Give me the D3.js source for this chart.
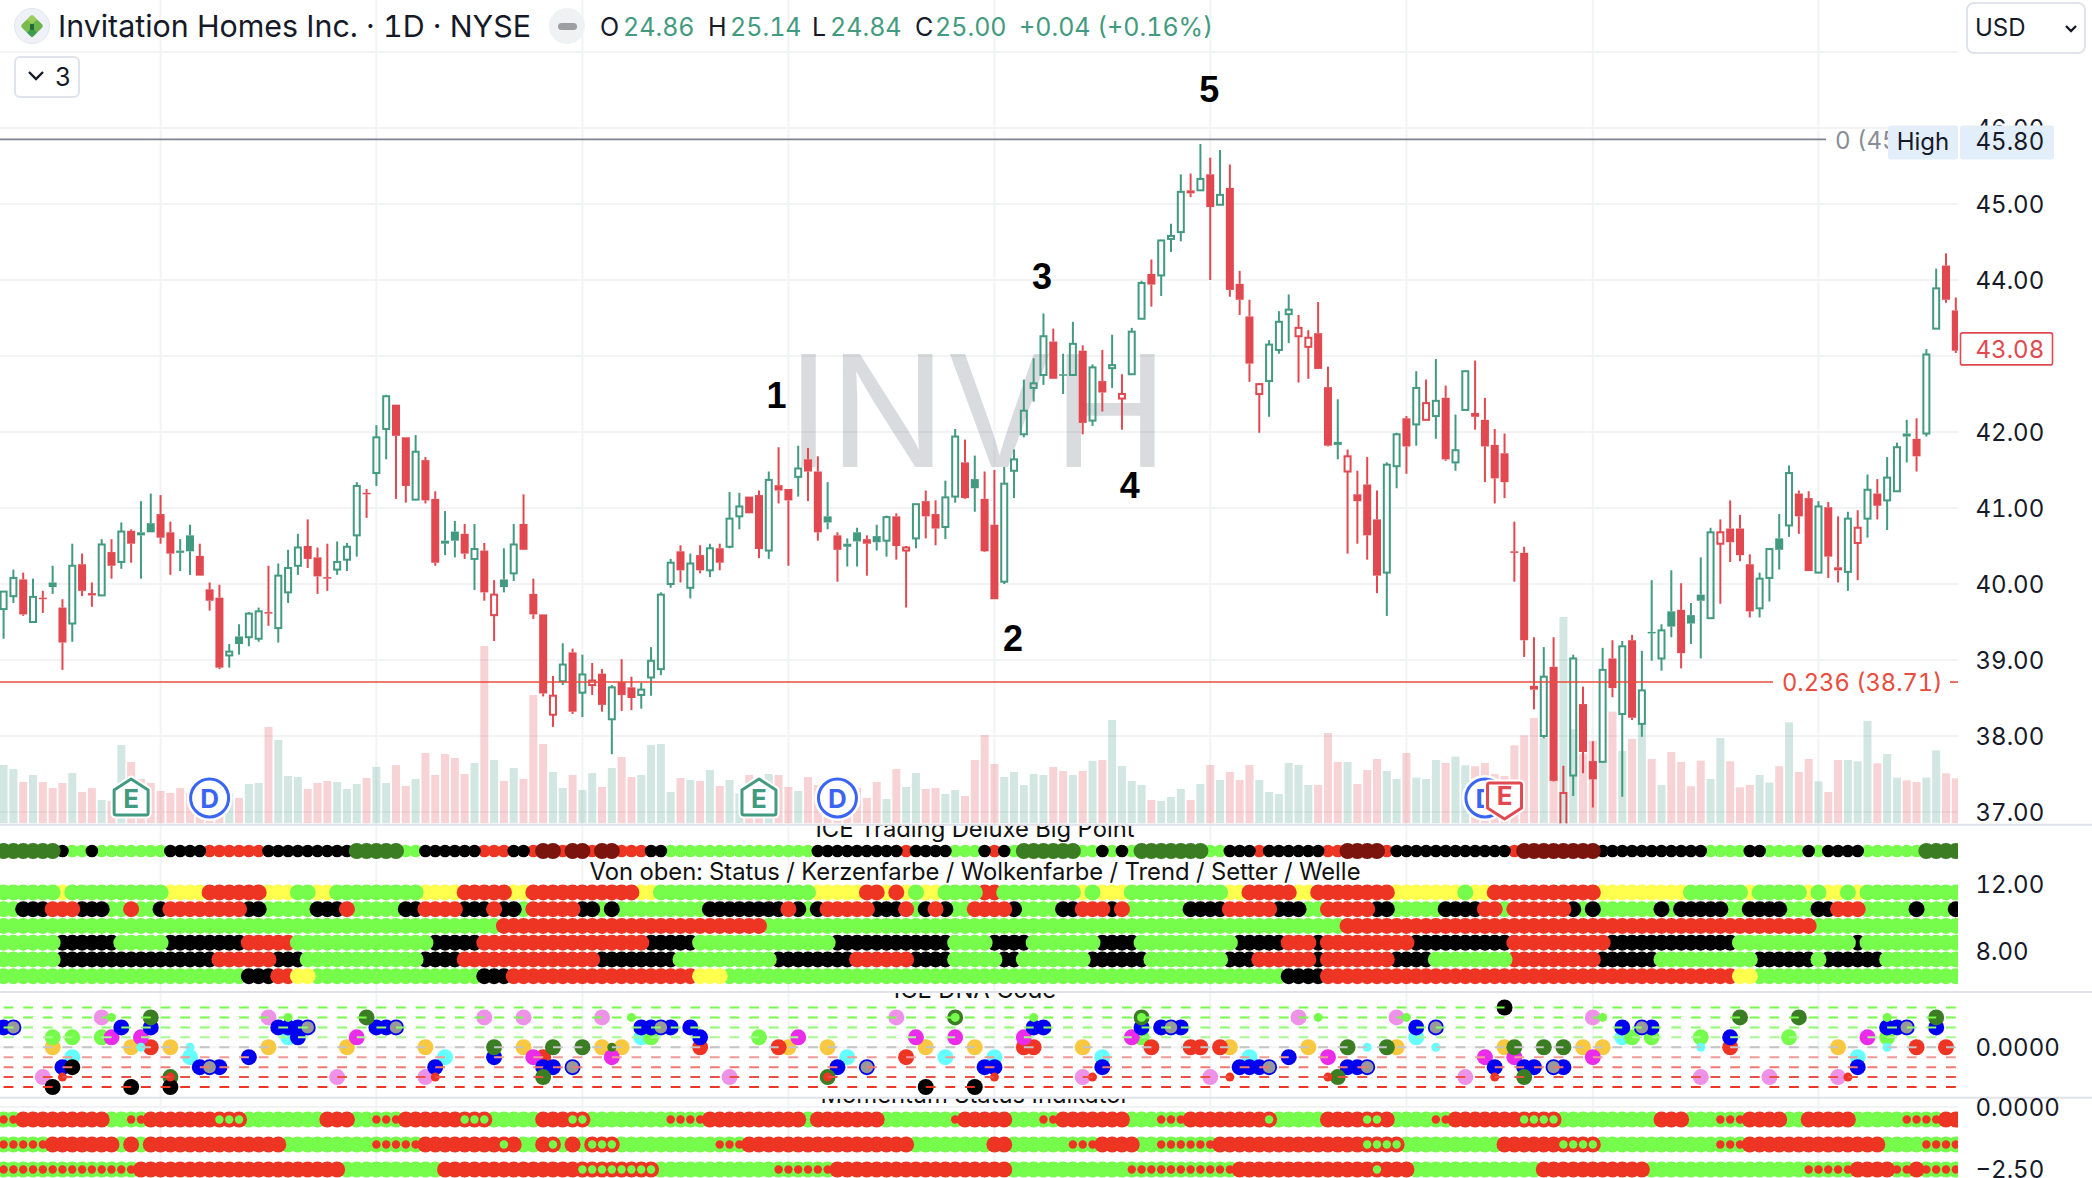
<!DOCTYPE html>
<html><head><meta charset="utf-8">
<style>html,body{margin:0;padding:0;background:#fff;overflow:hidden}svg{display:block}text{font-family:Inter,"Noto Sans",sans-serif;font-variant-numeric:tabular-nums}</style>
<script src="https://cdn.jsdelivr.net/npm/d3@7/dist/d3.min.js"></script>
</head><body><svg id="c" width="2092" height="1178"></svg>
<script>
// ---------- candle data (one entry per trading day) ----------
// G hollow green, g solid green, R solid red, r hollow red
const candleKinds = ("GGRGRgRGRR"+"GRGRggRRgg"+"RRRGgGGRGG"+"GRRRGGGRGG"+"RRGRRggRGR"+"rgGRRRrGRG"+"rRGRRGGGGR"+"GRGRGGRRGR"+"RGRRgRggRg"+"GRrGRRGGRg"+
 "RRGGGGGRgG"+"RGRGrGGRGG"+"GRGRGRRRrG"+"GGrrRRgrRR"+"RGGRGrGRGG"+"RRRRRRRGRr"+"GRRGRGRGgG"+"gRggGrRRRG"+"GgGRRGRRGr"+"GRGGgRGGRR").split("");
const bodyTops = [
39.90,40.08,40.06,39.83,39.82,40.02,39.69,40.24,40.26,39.88,
40.52,40.42,40.69,40.70,40.68,40.80,40.92,40.68,40.44,40.64,
40.37,39.93,39.82,39.11,39.31,39.61,39.64,39.63,40.11,40.21,
40.48,40.50,40.35,40.09,40.29,40.49,41.29,41.20,41.93,42.47,
42.36,41.93,41.74,41.63,41.12,40.57,40.69,40.66,40.46,40.44,
39.86,40.06,40.52,40.79,39.87,39.60,38.53,38.94,39.10,38.81,
38.73,38.82,38.64,38.71,38.64,38.61,38.99,39.86,40.28,40.43,
40.27,40.38,40.47,40.47,40.86,41.02,41.15,41.17,41.37,41.30,
41.25,41.52,41.64,41.48,40.89,40.64,40.53,40.68,40.59,40.63,
40.88,40.89,40.48,41.05,41.09,40.92,41.14,41.94,41.60,41.38,
41.12,40.78,41.32,41.64,42.28,42.64,43.26,43.19,42.76,43.16,
43.07,42.85,42.67,42.88,42.50,43.32,43.96,44.08,44.52,44.58,
45.16,45.18,45.33,45.39,45.12,45.21,43.95,43.52,42.63,43.15,
43.45,43.61,43.37,43.24,43.30,42.59,41.87,41.68,41.18,41.31,
40.85,41.57,41.97,42.18,42.58,42.38,42.41,42.45,41.76,42.80,
42.25,42.16,41.83,41.72,40.43,40.41,38.66,38.78,38.91,37.25,
39.02,38.42,37.67,38.87,39.02,39.18,39.26,38.60,39.37,39.39,
39.64,39.66,39.59,39.86,40.68,40.68,40.73,40.73,40.26,40.07,
40.46,40.60,41.46,41.19,41.13,41.02,41.01,40.22,40.86,40.74,
41.24,41.19,41.40,41.80,41.98,41.91,43.02,43.89,44.19,43.60];
const bodyBottoms = [
39.67,39.84,39.60,39.50,39.80,39.96,39.23,39.48,39.91,39.85,
39.85,40.24,40.29,40.53,40.64,40.68,40.61,40.40,40.41,40.43,
40.11,39.78,38.90,39.06,39.21,39.30,39.28,39.61,39.42,39.89,
40.24,40.33,40.10,40.07,40.19,40.32,40.64,41.18,41.46,42.04,
41.95,41.29,41.11,41.10,40.28,40.53,40.57,40.40,40.33,39.89,
39.59,39.96,40.14,40.45,39.60,38.56,38.28,38.72,38.32,38.57,
38.67,38.41,38.22,38.54,38.50,38.54,38.77,38.88,40.00,40.18,
39.95,40.18,40.18,40.28,40.49,40.89,40.93,40.46,40.44,41.23,
41.10,41.41,41.48,40.68,40.81,40.45,40.49,40.56,40.53,40.55,
40.57,40.50,40.44,40.60,40.89,40.73,40.75,41.15,41.13,41.26,
40.43,39.80,40.03,41.49,41.97,42.58,42.75,42.70,42.75,42.75,
42.12,42.15,42.52,42.84,42.44,42.76,43.49,43.94,44.06,44.54,
44.63,45.14,45.18,44.96,44.99,43.87,43.74,42.90,42.50,42.67,
43.08,43.55,43.26,43.12,42.83,41.82,41.83,41.48,41.09,40.64,
40.11,40.15,41.55,41.81,42.10,42.16,42.21,41.64,41.60,42.29,
42.20,41.81,41.39,41.34,40.41,39.26,38.61,38.00,37.41,36.82,
37.48,37.79,37.43,37.66,38.63,38.29,38.24,38.16,39.35,39.02,
39.44,39.09,39.48,39.78,39.55,40.53,40.55,40.38,39.64,39.68,
40.08,40.45,40.77,40.89,40.17,40.15,40.36,40.18,40.16,40.54,
40.86,41.03,41.10,41.22,41.94,41.68,41.98,43.36,43.74,43.07];
const highs = [
39.90,40.19,40.15,40.07,39.91,40.24,39.80,40.53,40.40,40.02,
40.59,40.59,40.81,40.72,41.09,41.19,41.17,40.82,40.59,40.78,
40.53,40.02,39.99,39.21,39.47,39.63,39.69,40.24,40.27,40.45,
40.66,40.85,40.48,40.53,40.56,40.54,41.34,41.25,42.09,42.49,
42.36,41.93,41.96,41.67,41.22,40.96,40.83,40.79,40.79,40.54,
40.05,40.47,40.79,41.18,40.07,39.60,38.79,39.22,39.15,39.07,
38.96,38.88,38.67,39.01,38.78,38.70,39.17,39.89,40.33,40.51,
40.40,40.51,40.53,40.53,41.21,41.20,41.15,41.23,41.48,41.80,
41.25,41.82,41.79,41.68,41.34,40.68,40.60,40.74,40.64,40.78,
40.90,40.93,40.50,41.05,41.23,41.10,41.36,42.04,41.90,41.69,
41.48,41.50,41.54,41.77,42.69,42.97,43.56,43.36,43.03,43.45,
43.14,42.89,43.08,43.28,42.76,43.37,43.99,44.27,44.53,44.74,
45.39,45.40,45.79,45.61,45.71,45.52,44.12,43.74,42.64,43.21,
43.59,43.81,43.54,43.34,43.71,42.86,42.43,41.77,41.49,41.67,
41.23,41.60,41.99,42.21,42.80,42.69,42.96,42.61,42.23,42.80,
42.94,42.45,42.04,41.98,40.82,40.49,39.30,39.17,39.30,37.61,
39.07,38.65,37.93,39.16,39.26,39.25,39.33,39.12,40.05,39.47,
40.18,40.01,39.75,40.35,40.74,40.85,41.10,40.91,40.39,40.15,
40.47,40.92,41.56,41.23,41.22,41.09,41.08,40.89,40.95,40.97,
41.44,41.38,41.67,41.86,42.16,42.18,43.09,44.15,44.35,43.77];
const lows = [
39.28,39.75,39.58,39.50,39.62,39.87,38.87,39.24,39.84,39.70,
39.85,40.07,40.20,40.28,40.07,40.68,40.53,40.12,40.17,40.12,
40.11,39.65,38.88,38.90,39.07,39.18,39.24,39.45,39.23,39.75,
40.12,40.21,39.87,39.91,40.12,40.17,40.36,40.87,41.29,41.64,
41.12,41.07,41.11,41.06,40.24,40.38,40.35,40.33,39.92,39.78,
39.25,39.89,40.04,40.45,39.54,38.52,38.12,38.67,38.29,38.25,
38.54,38.32,37.76,38.33,38.34,38.36,38.53,38.80,39.95,40.02,
39.81,40.14,40.09,40.18,40.47,40.72,40.93,40.34,40.33,41.06,
40.24,41.15,41.09,40.57,40.72,40.03,40.23,40.23,40.11,40.44,
40.36,40.32,39.69,40.47,40.60,40.51,40.59,41.07,41.12,40.95,
40.42,39.80,40.00,41.13,41.93,42.40,42.62,42.70,42.50,42.75,
41.97,42.08,42.27,42.58,42.03,42.76,43.49,43.65,43.79,44.37,
44.51,45.09,45.18,44.00,44.99,43.78,43.54,42.66,41.99,42.20,
43.03,43.17,42.65,42.70,42.83,41.81,41.64,40.40,40.53,40.32,
39.88,39.58,41.26,41.45,41.82,42.16,41.91,41.62,41.49,42.29,
42.03,41.34,41.06,41.13,40.03,39.04,38.35,37.97,37.40,36.82,
37.21,37.51,37.06,37.66,38.51,37.20,38.21,37.99,38.99,38.86,
39.30,38.89,39.21,39.02,39.55,39.74,40.29,40.30,39.56,39.56,
39.77,40.19,40.62,40.66,40.17,40.15,40.08,40.02,39.91,40.05,
40.61,40.85,40.71,41.22,41.60,41.48,41.94,43.36,43.70,43.04];
const volumes = [
1.75,1.63,1.24,1.45,1.24,1.06,1.21,1.51,.94,1.06,
.70,.67,2.35,1.84,1.33,1.21,.97,.91,1.06,.91,
.91,.60,.70,.90,.76,1.18,1.21,2.89,2.50,1.42,
1.39,1.03,1.21,1.27,1.24,1.03,1.18,1.36,1.69,1.21,
1.75,1.12,1.33,2.11,1.45,2.08,1.96,1.48,1.81,5.32,
1.90,1.27,1.66,1.33,3.85,2.38,1.54,1.06,1.45,1.00,
1.51,1.09,1.66,1.99,1.39,1.45,2.35,2.38,.94,1.36,
1.30,1.27,1.60,1.12,1.30,.90,1.45,1.25,1.48,1.45,
1.09,.97,1.39,1.15,1.10,1.10,.90,1.06,.76,1.24,
.73,1.63,1.09,1.51,1.03,1.06,.88,1.00,.82,1.90,
2.65,1.78,1.39,1.54,1.15,1.48,1.45,1.69,1.57,1.45,
1.57,1.87,1.90,3.10,1.72,1.27,1.15,.70,.67,.79,
1.03,.70,1.18,1.75,1.30,1.54,1.30,1.75,1.30,.94,
.88,1.81,1.75,1.15,1.15,2.71,1.84,1.84,1.18,1.60,
1.93,1.57,1.33,2.11,1.37,1.33,1.90,1.81,2.00,1.74,
1.71,1.81,1.48,1.42,2.34,2.64,3.16,2.57,1.42,6.19,
2.82,2.09,2.48,1.82,3.35,2.17,2.53,2.98,1.93,1.15,
2.14,1.84,1.11,1.88,1.33,2.56,1.86,1.08,1.15,1.45,
1.22,1.71,3.03,1.54,1.93,1.26,.94,1.90,1.90,1.86,
3.07,1.80,2.08,1.37,1.29,1.24,1.37,2.19,1.50,1.35];

// ---------- axes, levels, labels ----------
const priceTicks = [37,38,39,40,41,42,43,44,45,46];
const priceGrid = [37,38,39,40,41,42,43,44,45,46,47];
const monthStartBars = [16,38,59,80,101,123,143,162,185];
const statusTicks = [12,8];
const dnaTicks = [0];
const momentumTicks = [0,-2.5];
const lastPrice = 43.08;
const highLevel = 45.85, highLabel = "45.80";
const fibLevel = 38.71, fibRatio = "0.236";
const waveLabels = ["1","2","3","4","5"];
const waveBars = [78.8,102.9,105.85,114.8,122.9];
const wavePrices = [42.49,39.29,44.05,41.30,46.51];
const earningsBars = [13,77];
const dividendBars = [21,85,151];
const redEarningsBars = [153];

// ---------- indicator rows, run-length coded colour + count ----------
const bigPointRow = "d6 k1 g2 k1 g7 k4 r6 k9 d5 g2 k6 r3 k2 r1 m2 r1 m2 r1 m2 r3 k2 g15 k9 r1 k4 g3 k1 r1 k1 g1 d6 g2 k1 g1 k1 g1 d7 g2 k3 r1 k6 r2 m4 r1 k12 r1 m8 k11 g4 k2 g4 k1 g1 k4 g6 d4";
const statusRow = "g6 y1 g10 y4 r6 y3 g2 y2 g9 y4 r5 y2 r11 y2 g16 y5 r2 y1 r1 y1 g1 y2 g4 r2 g8 y1 g1 y3 g10 y2 r5 y2 r8 y7 g1 y2 r11 y9 g6 y1 g5 y1 g1 y2 g1 y1 g10";
const candleColourRow = "g2 k3 r3 k3 g2 r1 g2 k1 r8 k2 g5 k3 r1 g5 k2 r4 k3 r1 k2 g1 r5 k2 g1 k1 g9 k8 r1 k1 g1 k1 r5 k3 r1 g1 k1 r1 k1 g2 r4 k1 g4 k2 r3 k1 r1 g6 k4 r5 k3 g2 r5 k2 g5 k4 r2 g1 r6 k1 g1 k1 g6 k1 g1 k5 g2 k4 g3 k2 r3 g5 k1 g3 k1";
const cloudRow = "g51 r27 g59 r48 g15";
const trendRow = "g6 k6 g5 k8 r5 g14 k5 r17 k5 g14 k12 g4 k4 g7 k4 g10 k5 r3 k1 r9 k10 r10 k13 g12 k1 g10";
const setterRow = "g6 k16 r6 k3 g12 k4 r14 k8 g10 k8 r6 k4 g5 k2 g7 k6 g8 k3 r6 k1 r7 k4 g8 r9 k6 g10 k6 g1 k6 g8";
const waveRow = "g25 k3 r2 y2 g17 k3 r19 y3 g57 k4 r42 y2 g21";
const statusValues = [11.5,10.5,9.5,8.5,7.5,6.5];
// G big green, R big red, a small red on green, b small green on red
const momentumRow1 = "a2 R9 G2 a2 R7 b3 G8 R3 G2 a3 R6 b3 G5 R3 b2 G8 a4 R10 G1 R7 G7 a1 R5 G3 a2 R7 G3 a3 R8 b1 G5 R4 b2 R1 G4 a2 R7 b4 G10 R3 G3 a3 R4 G2 R5 G5 a4 R2";
const momentumRow2 = "a5 R7 G1 R1 G1 R14 G9 a5 R8 b1 R1 G2 R1 b1 G1 R1 G1 b3 G10 a3 R17 G8 R2 G6 a3 R4 G2 a6 R15 b4 G10 R6 b4 G12 a3 R14 G4 a4";
const momentumRow3 = "a14 R21 G10 R14 b8 G12 a6 R18 G12 a11 R14 b1 R3 G13 R11 G16 a5 R4 a2 R1 a4";
const momentumValues = [-0.5,-1.5,-2.5];

// ---------- DNA code dots: [bar, level] ----------
const dnaLevels = [4,3,2,1,0,-1,-2,-3,-4];
const dnaPink = [[4,-3],[10,3],[27,3],[34,-3],[43,-3],[49,3],[53,3],[61,3],[74,-3],[91,3],[110,-3],[123,-3],[132,3],[142,3],[149,-3],[162,3],[173,-3],[180,-3],[187,-3]];
const dnaOrange = [[5,0],[13,0],[17,0],[27,0],[35,0],[43,0],[53,0],[61,0],[63,0],[80,0],[84,0],[94,0],[99,0],[110,0],[125,0],[133,0],[142,0],[153,0],[161,0],[163,0],[187,0]];
const dnaCyan = [[7,-1],[19,-1],[29,1],[45,-1],[65,1],[86,-1],[96,-1],[101,-1],[112,-1],[127,-1],[144,1],[165,1],[189,-1]];
const dnaLime = [[5,1],[7,1],[10,1],[66,1],[77,1],[116,1],[166,1],[168,1],[173,1],[182,1],[192,1]];
const dnaRed = [[15,0],[55,-1],[71,0],[79,0],[92,-1],[104,0],[105,0],[117,0],[121,0],[122,0],[124,0],[176,0],[195,0],[198,0]];
const dnaMagenta = [[11,1],[14,1],[36,1],[54,-1],[62,-1],[81,1],[93,1],[97,1],[104,1],[115,1],[135,-1],[151,-1],[154,-1],[162,-1],[190,1]];
const dnaBlue = [[0,2],[6,-2],[20,-2],[22,-2],[25,-1],[12,2],[15,2],[28,2],[29,2],[30,2],[30,1],[38,2],[39,2],[44,-2],[50,-1],[55,-2],[56,-2],[65,2],[66,2],[68,2],[70,2],[71,1],[85,-2],[100,-2],[101,-2],[105,2],[106,2],[112,-2],[116,2],[118,2],[120,2],[126,-2],[127,-2],[128,-2],[131,-1],[137,-2],[138,-2],[144,2],[152,-2],[155,-2],[156,-2],[159,-2],[165,2],[168,2],[176,1],[189,-2],[192,2],[193,2],[197,2]];
const dnaDark = [[15,3],[17,-3],[37,3],[50,0],[55,-3],[56,0],[59,0],[84,-3],[97,3],[116,3],[136,-3],[137,0],[141,0],[154,0],[155,-3],[157,0],[159,0],[177,3],[183,3],[197,3]];
const dnaBlack = [[5,-4],[7,-2],[13,-4],[17,-4],[94,-4],[99,-4],[153,4]];
const dnaSilver = [[1,2],[21,-2],[31,2],[40,2],[58,-2],[67,2],[88,-2],[119,2],[129,-2],[139,-2],[146,2],[158,-2],[167,2],[194,2]];
const dnaSmallRed = [[6,-3],[17,-3],[44,-3],[84,-3],[101,-3],[111,-3],[125,-3],[135,-3],[152,-3],[188,-3]];
const dnaSmallLime = [[11,3],[29,3],[64,3],[97,3],[105,3],[116,3],[134,3],[143,3],[163,3],[192,3]];
const dnaSmallCyan = [[14,0],[19,0],[139,0],[146,0],[173,0],[192,0]];
const dnaSmallDark = [[62,0]];

// ---------- palette ----------
const GREEN="#429a80", RED="#e1484f", FIB="#e84c3d", GRID="#f2f3f5", SEP="#e0e3eb", INK="#161a28";
const dotColour={g:"#76fc4a",r:"#ee3524",k:"#000000",y:"#ffff4d",d:"#3a7d22",m:"#7a140c"};

// ---------- scales ----------
const n = candleKinds.length;
const x = d3.scaleLinear().domain([0,n-1]).range([3.6,1955.8]);
const yPrice = d3.scaleLinear().domain([37,47]).range([812,52]);
const yVolume = d3.scaleLinear().domain([0,6.4]).range([823.3,610]);
const yBig = d3.scaleLinear().domain([0,1]).range([851,851]);
const yStatus = d3.scaleLinear().domain([12,8]).range([884,951]);
const yDna = d3.scaleLinear().domain([-4,4]).range([1087,1007.5]);
const yMomentum = d3.scaleLinear().domain([0,-2.5]).range([1107,1169.5]);
const PLOT_R = 1958;
const AXIS_X = 1975.5;

const svg = d3.select("#c");
const defs = svg.append("defs");
function clip(id,x0,y0,w,h){defs.append("clipPath").attr("id",id).append("rect").attr("x",x0).attr("y",y0).attr("width",w).attr("height",h);}
clip("cMain",0,0,PLOT_R,823.5); clip("cBig",0,825.5,PLOT_R,166); clip("cDna",0,993,PLOT_R,104); clip("cMom",0,1098.5,PLOT_R,80);
clip("cBigT",0,825.5,2092,166); clip("cDnaT",0,993,2092,104); clip("cMomT",0,1098.5,2092,80);
const expand = s => s.split(" ").flatMap(t=>d3.range(+t.slice(1)).map(()=>t[0]));

// ---------- grid ----------
const grid = svg.append("g");
grid.selectAll("line.v").data(monthStartBars).join("line").attr("x1",d=>x(d)).attr("x2",d=>x(d)).attr("y1",0).attr("y2",1178).attr("stroke",GRID).attr("stroke-width",2);
grid.selectAll("line.h").data(priceGrid).join("line").attr("class","h").attr("x1",0).attr("x2",PLOT_R).attr("y1",d=>yPrice(d)).attr("y2",d=>yPrice(d)).attr("stroke",GRID).attr("stroke-width",2);
[[yMomentum,momentumTicks],[yDna,dnaTicks]].forEach(([s,t])=>grid.append("g").selectAll("line").data(t).join("line").attr("x1",0).attr("x2",PLOT_R).attr("y1",d=>s(d)).attr("y2",d=>s(d)).attr("stroke",GRID).attr("stroke-width",2));

// ---------- main pane ----------
const main = svg.append("g").attr("clip-path","url(#cMain)");
const hollow = k => k==="G"||k==="r";
main.append("g").selectAll("rect").data(volumes).join("rect")
 .attr("x",(d,i)=>x(i)-4).attr("width",8).attr("y",d=>yVolume(d)).attr("height",d=>yVolume(0)-yVolume(d))
 .attr("fill",(d,i)=>hollow(candleKinds[i])?GREEN:RED).attr("fill-opacity",.24);
main.append("text").text("INVH").attr("x",978).attr("y",467).attr("text-anchor","middle").attr("font-size",155).attr("fill","#787b86").attr("fill-opacity",.27);

const kindCol = k => (k==="G"||k==="g")?GREEN:RED;
const candles = main.append("g").selectAll("g").data(d3.range(n)).join("g");
candles.append("line").attr("x1",i=>x(i)).attr("x2",i=>x(i)).attr("y1",i=>yPrice(highs[i])).attr("y2",i=>yPrice(bodyTops[i])).attr("stroke",i=>kindCol(candleKinds[i])).attr("stroke-width",2);
candles.append("line").attr("x1",i=>x(i)).attr("x2",i=>x(i)).attr("y1",i=>yPrice(bodyBottoms[i])).attr("y2",i=>yPrice(lows[i])).attr("stroke",i=>kindCol(candleKinds[i])).attr("stroke-width",2);
candles.append("rect")
 .attr("x",i=>x(i)-(hollow(candleKinds[i])?3:4)).attr("width",i=>hollow(candleKinds[i])?6:8)
 .attr("y",i=>yPrice(bodyTops[i])).attr("height",i=>Math.max(1.5,yPrice(bodyBottoms[i])-yPrice(bodyTops[i])))
 .attr("fill",i=>hollow(candleKinds[i])?"none":kindCol(candleKinds[i]))
 .attr("stroke",i=>hollow(candleKinds[i])?kindCol(candleKinds[i]):"none").attr("stroke-width",2);

// fib levels
main.append("line").attr("x1",0).attr("x2",1826).attr("y1",yPrice(highLevel)).attr("y2",yPrice(highLevel)).attr("stroke","#7f8390").attr("stroke-width",1.6);
main.append("line").attr("x1",0).attr("x2",1773).attr("y1",yPrice(fibLevel)).attr("y2",yPrice(fibLevel)).attr("stroke",FIB).attr("stroke-width",1.6);
main.append("line").attr("x1",1950).attr("x2",PLOT_R).attr("y1",yPrice(fibLevel)).attr("y2",yPrice(fibLevel)).attr("stroke",FIB).attr("stroke-width",1.6);
main.append("text").text(`${fibRatio} (${fibLevel.toFixed(2)})`).attr("x",1782).attr("y",yPrice(fibLevel)+8.5).attr("font-size",23.7).attr("fill",FIB);

// wave labels
svg.append("g").selectAll("text").data(waveLabels).join("text").text(d=>d)
 .attr("x",(d,i)=>x(waveBars[i])).attr("y",(d,i)=>yPrice(wavePrices[i])+13).attr("text-anchor","middle")
 .attr("font-size",36).attr("font-weight",700).attr("fill","#000").style("font-family","'Liberation Sans',Arial,sans-serif");

// event markers
const markers = main.append("g");
const marker=(bars,draw)=>bars.forEach(b=>{const g=markers.append("g").attr("transform",`translate(${x(b)},798)`);draw(g);});
marker(dividendBars,g=>{
 g.append("circle").attr("r",21.5).attr("fill","none").attr("stroke","#fff").attr("stroke-width",3);
 g.append("circle").attr("r",19).attr("fill","#fff").attr("stroke","#3a64f5").attr("stroke-width",3);
 g.append("text").text("D").attr("y",9.5).attr("text-anchor","middle").attr("font-size",26).attr("font-weight",700).attr("fill","#3a64f5");
});
const shape=(g,d,col,t)=>{
 g.append("path").attr("d",d).attr("fill","#fff").attr("stroke","#fff").attr("stroke-width",7).attr("stroke-linejoin","round");
 g.append("path").attr("d",d).attr("fill","#fff").attr("stroke",col).attr("stroke-width",3).attr("stroke-linejoin","round");
 g.append("text").text(t).attr("y",t==="E"&&col===GREEN?10:7).attr("text-anchor","middle").attr("font-size",26).attr("font-weight",700).attr("fill",col);
};
marker(earningsBars,g=>shape(g,"M-17,-8 L0,-19 L17,-8 L17,15 Q17,17 15,17 L-15,17 Q-17,17 -17,15 Z",GREEN,"E"));
marker(redEarningsBars,g=>shape(g,"M-17,-13 Q-17,-15 -15,-15 L15,-15 Q17,-15 17,-13 L17,10 L0,21 L-17,10 Z",RED,"E"));

// ---------- big point pane ----------
const bigG = svg.append("g").attr("clip-path","url(#cBig)");
const bigSeq = expand(bigPointRow).map((c,i)=>({c,i}));
["g","r","k","d","m"].forEach(c=>bigG.append("g").selectAll("circle").data(bigSeq.filter(d=>d.c===c)).join("circle")
 .attr("cx",d=>x(d.i)).attr("cy",yBig(0)).attr("r",(c==="d"||c==="m")?8:6.3).attr("fill",dotColour[c]));

// ---------- status pane ----------
const statusG = svg.append("g").attr("clip-path","url(#cBig)");
const rowOrder = [["y","k","r","g"],["y","g","k","r"],["y","k","g","r"],["y","k","r","g"],["y","k","r","g"],["g","k","r","y"]];
[statusRow,candleColourRow,cloudRow,trendRow,setterRow,waveRow].forEach((row,ri)=>{
 const seq=expand(row).map((c,i)=>({c,i}));
 rowOrder[ri].forEach(c=>statusG.append("g").selectAll("circle").data(seq.filter(d=>d.c===c)).join("circle")
  .attr("cx",d=>x(d.i)).attr("cy",yStatus(statusValues[ri])).attr("r",8).attr("fill",dotColour[c]));
});

// ---------- DNA pane ----------
const dnaG = svg.append("g").attr("clip-path","url(#cDna)");
const dots=(arr,col,r)=>dnaG.append("g").selectAll("circle").data(arr).join("circle").attr("cx",d=>x(d[0])).attr("cy",d=>yDna(d[1])).attr("r",r).attr("fill",col);
dots(dnaPink,"#ee92e8",8); dots(dnaOrange,"#f8c840",8); dots(dnaCyan,"#66ffff",8); dots(dnaLime,"#76fc4a",8); dots(dnaRed,"#ee3524",8);
dots(dnaMagenta,"#ea2cea",8); dots(dnaSmallDark,"#3a7d22",4.5); dots(dnaBlue,"#0000f0",8); dots(dnaDark,"#3a7d22",8); dots(dnaBlack,"#000",8);
dots(dnaSilver,"#0000f0",8); dots(dnaSilver,"#999",6.2);
dots(dnaSmallRed,"#ee3524",4.5); dots(dnaSmallLime,"#76fc4a",4.5); dots(dnaSmallCyan,"#66ffff",4.5);
const dnaLineCol={4:"#76fc4a",3:"#76fc4a",2:"#8dfb6c",1:"#a6fa90",0:"#c4c4c4","-1":"#f29a96","-2":"#f07a72","-3":"#ee4f45","-4":"#ee3524"};
dnaG.append("g").selectAll("line").data(dnaLevels).join("line").attr("x1",0).attr("x2",PLOT_R).attr("y1",d=>yDna(d)).attr("y2",d=>yDna(d))
 .attr("stroke",d=>dnaLineCol[d]).attr("stroke-width",2).attr("stroke-dasharray","9.81 9.81").attr("stroke-dashoffset",16);

// ---------- momentum pane ----------
const momG = svg.append("g").attr("clip-path","url(#cMom)");
[momentumRow1,momentumRow2,momentumRow3].forEach((row,ri)=>{
 const seq=expand(row).map((c,i)=>({c,i})), cy=yMomentum(momentumValues[ri]);
 const layer=(f,col,r)=>momG.append("g").selectAll("circle").data(seq.filter(f)).join("circle").attr("cx",d=>x(d.i)).attr("cy",cy).attr("r",r).attr("fill",col);
 layer(d=>d.c==="G"||d.c==="a",dotColour.g,8);
 layer(d=>d.c==="R"||d.c==="b",dotColour.r,8);
 layer(d=>d.c==="a",dotColour.r,4.2);
 layer(d=>d.c==="b",dotColour.g,4.2);
});

// ---------- pane titles ----------
const title=(t,y,cl)=>svg.append("g").attr("clip-path",`url(#${cl})`).append("text").text(t).attr("x",975).attr("y",y).attr("text-anchor","middle").attr("font-size",23.8).attr("fill","#111");
title("ICE Trading Deluxe Big Point",837,"cBigT");
title("Von oben: Status / Kerzenfarbe / Wolkenfarbe / Trend / Setter / Welle",880,"cBigT");
title("ICE DNA Code",998,"cDnaT");
title("Momentum Status Indikator",1103,"cMomT");

// ---------- panel separators ----------
svg.append("g").selectAll("line").data([824.7,992,1097.7]).join("line").attr("x1",0).attr("x2",2092).attr("y1",d=>d).attr("y2",d=>d).attr("stroke",SEP).attr("stroke-width",2);

// ---------- axes ----------
const axis=(scale,ticks,fmt)=>{
 const a=svg.append("g").attr("transform",`translate(${AXIS_X},0)`).call(d3.axisRight(scale).tickValues(ticks).tickFormat(d3.format(fmt)).tickSize(0).tickPadding(0));
 a.select(".domain").remove();
 a.selectAll("text").attr("font-size",24).attr("fill",INK).attr("dy","0.34em").style("font-family","Inter");
 return a;
};
axis(yPrice,priceTicks,".2f");
axis(yStatus,statusTicks,".2f");
axis(yDna,dnaTicks,".4f");
const mAx=axis(yMomentum,momentumTicks,(".2f"));
mAx.selectAll("text").text(d=>d===0?d3.format(".4f")(d):d3.format(".2f")(d));

// high level tag
svg.append("text").text(`0 (${highLabel})`).attr("x",1835).attr("y",yPrice(highLevel)+10).attr("font-size",24).attr("fill","#8a8d96");
const tagY=yPrice(highLevel)+3;
svg.append("rect").attr("x",1888).attr("y",tagY-17).attr("width",70).attr("height",34).attr("rx",3).attr("fill","#e3eefb");
svg.append("rect").attr("x",1960).attr("y",tagY-17).attr("width",94).attr("height",34).attr("rx",3).attr("fill","#e3eefb");
svg.append("text").text("High").attr("x",1923).attr("y",tagY+7.5).attr("text-anchor","middle").attr("font-size",24).attr("fill",INK);
svg.append("text").text(highLabel).attr("x",AXIS_X).attr("y",tagY+7.5).attr("font-size",24).attr("fill",INK);

// last price tag
svg.append("rect").attr("x",1960.5).attr("y",yPrice(lastPrice)-17).attr("width",92).attr("height",32).attr("rx",2).attr("fill","#fff").attr("stroke",RED).attr("stroke-width",1.6);
svg.append("text").text(lastPrice.toFixed(2)).attr("x",AXIS_X).attr("y",yPrice(lastPrice)+8).attr("font-size",24).attr("fill",RED);

// ---------- header ----------
const hdr=svg.append("g");
hdr.append("circle").attr("cx",32).attr("cy",26).attr("r",17.5).attr("fill","#eef1f8").attr("stroke","#e3e6ee");
[[0,-5,"#9ccc5c"],[0,5,"#3f9b4d"],[-5,0,"#7bbb4e"],[5,0,"#6db34b"]].forEach(([dx,dy,c])=>hdr.append("rect").attr("x",32+dx-4.8).attr("y",26+dy-4.8).attr("width",9.6).attr("height",9.6).attr("rx",2.5).attr("fill",c).attr("transform",`rotate(45 ${32+dx} ${26+dy})`));
hdr.append("rect").attr("x",30).attr("y",24).attr("width",4).attr("height",6).attr("fill","#1f6b3a");
hdr.append("text").text("Invitation Homes Inc. · 1D · NYSE").attr("x",58).attr("y",37).attr("font-size",30.4).attr("fill",INK);
hdr.append("circle").attr("cx",567).attr("cy",26).attr("r",18).attr("fill","#f0f1f2");
hdr.append("rect").attr("x",558).attr("y",23).attr("width",19).attr("height",7).attr("rx",3.5).attr("fill","#9b9ea3");
const ohlcLabels=["O","H","L","C"], ohlcValues=["24.86","25.14","24.84","25.00"], ohlcLabelX=[600,708,812,915], ohlcValueX=[623,730,830,935];
ohlcLabels.forEach((l,i)=>{
 hdr.append("text").text(l).attr("x",ohlcLabelX[i]).attr("y",36).attr("font-size",25).attr("fill",INK);
 hdr.append("text").text(ohlcValues[i]).attr("x",ohlcValueX[i]).attr("y",36).attr("font-size",25).attr("fill",GREEN);
});
hdr.append("text").text("+0.04 (+0.16%)").attr("x",1019).attr("y",36).attr("font-size",25).attr("fill",GREEN);
hdr.append("rect").attr("x",15).attr("y",57).attr("width",64).attr("height",40).attr("rx",5).attr("fill","#fff").attr("stroke",SEP).attr("stroke-width",2);
hdr.append("path").attr("d","M29,72 L36,79 L43,72").attr("fill","none").attr("stroke",INK).attr("stroke-width",2.4);
hdr.append("text").text("3").attr("x",55).attr("y",86).attr("font-size",25).attr("fill",INK);
hdr.append("rect").attr("x",1967).attr("y",3).attr("width",118).attr("height",50).attr("rx",7).attr("fill","#fff").attr("stroke",SEP).attr("stroke-width",2);
hdr.append("text").text("USD").attr("x",1975).attr("y",36).attr("font-size",24).attr("fill",INK);
hdr.append("path").attr("d","M2066,26 L2071,31 L2076,26").attr("fill","none").attr("stroke",INK).attr("stroke-width",2.4);
</script></body></html>
